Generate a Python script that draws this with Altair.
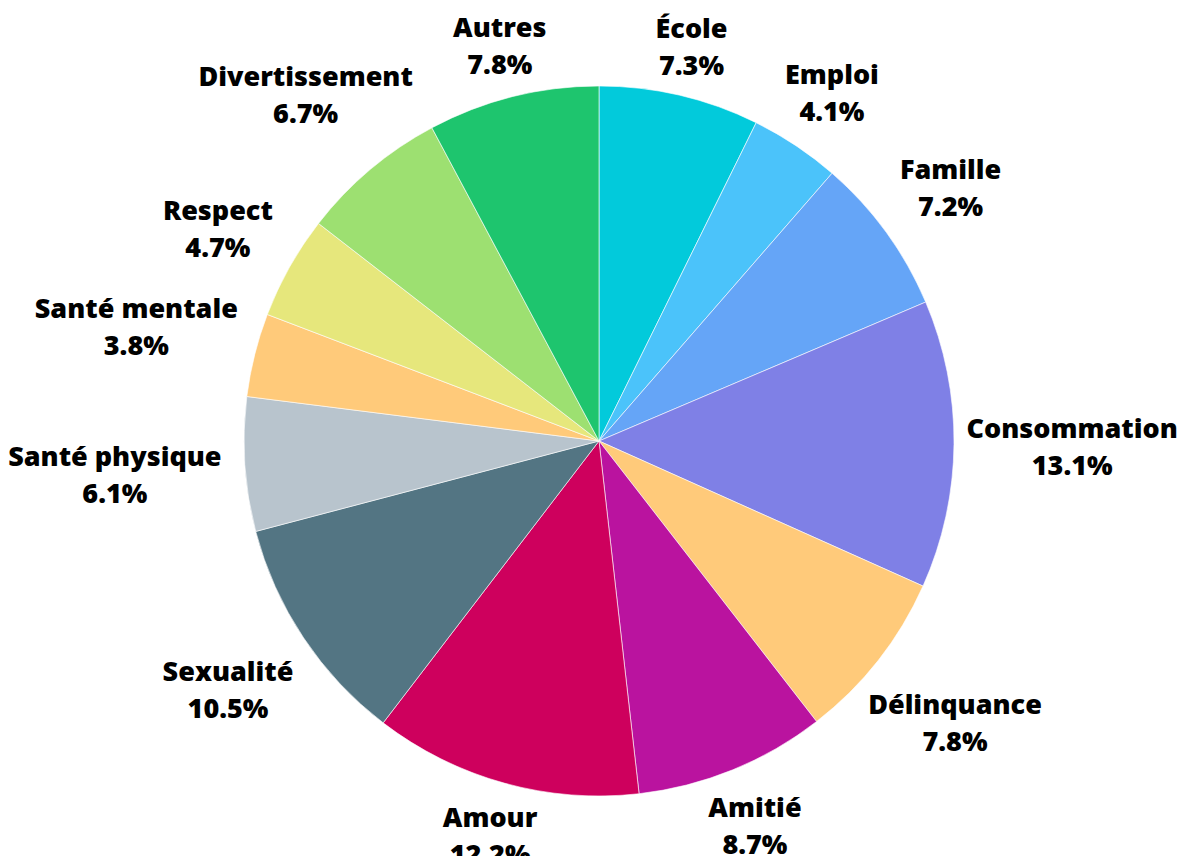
import altair as alt
import pandas as pd

categories = ["École", "Emploi", "Famille", "Consommation", "Délinquance", "Amitié",
              "Amour", "Sexualité", "Santé physique", "Santé mentale", "Respect",
              "Divertissement", "Autres"]
values = [7.3, 4.1, 7.2, 13.1, 7.8, 8.7, 12.2, 10.5, 6.1, 3.8, 4.7, 6.7, 7.8]
colors = ["#02CADB", "#4BC3FA", "#65A5F7", "#7F80E6", "#FFCA7A", "#BA139F",
          "#CE005D", "#537583", "#B8C4CD", "#FFCA7A", "#E6E77C", "#9DE071", "#1EC56E"]

df = pd.DataFrame({"cat": categories, "val": values, "idx": list(range(len(categories)))})

CX, CY, R = 591, 433, 355

base = alt.Chart(df)

arcs = base.mark_arc(outerRadius=R, stroke="white", strokeWidth=0.6).encode(
    theta=alt.Theta("val:Q", stack=True),
    order=alt.Order("idx:Q"),
    color=alt.Color("cat:N", scale=alt.Scale(domain=categories, range=colors), legend=None),
    x=alt.value(CX),
    y=alt.value(CY),
)

labels = base.transform_window(
    cum="sum(val)", sort=[alt.SortField("idx")], frame=[None, 0]
).transform_joinaggregate(
    total="sum(val)"
).transform_calculate(
    mid="(datum.cum - datum.val / 2) / datum.total * 2 * PI",
    lr="400 + 6.1 * length(datum.cat) * abs(sin((datum.cum - datum.val / 2) / datum.total * 2 * PI))",
).transform_calculate(
    lx=f"{CX} + datum.lr * sin(datum.mid)",
    ly=f"{CY} - datum.lr * cos(datum.mid)",
    txt="[datum.cat, format(datum.val, '.1f') + '%']",
).mark_text(
    font="Open Sans", fontWeight=800, fontSize=27, color="black",
    align="center", baseline="middle", lineHeight=37, dy=-15,
).encode(
    x=alt.X("lx:Q", scale=None, axis=None),
    y=alt.Y("ly:Q", scale=None, axis=None),
    text="txt:N",
)

chart = alt.layer(arcs, labels).properties(
    width=1172, height=848,
    autosize=alt.AutoSizeParams(type="none"),
    padding=0,
).configure_view(stroke=None)

chart.save("out.html", embed_options={"renderer": "svg", "actions": False})
